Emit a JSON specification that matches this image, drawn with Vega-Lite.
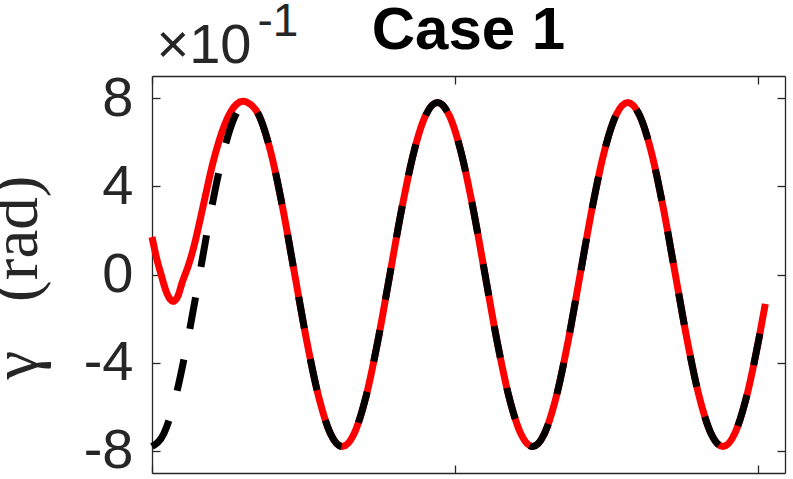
{
  "$schema": "https://vega.github.io/schema/vega-lite/v6.json",
  "width": 633,
  "height": 397,
  "autosize": {"type": "none"},
  "padding": {"left": 152, "top": 76, "right": 8, "bottom": 6},
  "background": "white",
  "title": {"text": "Case 1", "font": "Liberation Sans", "fontSize": 60, "fontWeight": "bold", "color": "black", "anchor": "middle", "frame": "group", "baseline": "alphabetic", "offset": -111},
  "config": {
    "view": {"stroke": null},
    "axis": {"domainColor": "#262626", "domainWidth": 1.3, "tickColor": "#262626", "tickWidth": 1.3, "labelColor": "#262626", "titleColor": "#262626", "grid": false, "labelFont": "Liberation Sans", "titleFont": "Liberation Sans"}
  },
  "datasets": {
    "sim": [
      {"t": 0, "gamma": 0.17}, {"t": 0.15, "gamma": 0.075}, {"t": 0.3, "gamma": 0.0}, {"t": 0.45, "gamma": -0.07},
      {"t": 0.6, "gamma": -0.112}, {"t": 0.7, "gamma": -0.122}, {"t": 0.85, "gamma": -0.1}, {"t": 1.0, "gamma": -0.035},
      {"t": 1.2, "gamma": 0.04}, {"t": 1.4, "gamma": 0.135}, {"t": 1.6, "gamma": 0.255}, {"t": 1.8, "gamma": 0.38},
      {"t": 2.0, "gamma": 0.5}, {"t": 2.2, "gamma": 0.6}, {"t": 2.4, "gamma": 0.68}, {"t": 2.6, "gamma": 0.738},
      {"t": 2.8, "gamma": 0.773}, {"t": 3.0, "gamma": 0.785},
      {"t": 3.142, "gamma": 0.78}, {"t": 3.534, "gamma": 0.7206}, {"t": 3.927, "gamma": 0.5515}, {"t": 4.32, "gamma": 0.2985},
      {"t": 4.712, "gamma": 0}, {"t": 5.105, "gamma": -0.2985}, {"t": 5.498, "gamma": -0.5515}, {"t": 5.89, "gamma": -0.7206},
      {"t": 6.283, "gamma": -0.78}, {"t": 6.676, "gamma": -0.7206}, {"t": 7.069, "gamma": -0.5515}, {"t": 7.461, "gamma": -0.2985},
      {"t": 7.854, "gamma": 0}, {"t": 8.247, "gamma": 0.2985}, {"t": 8.639, "gamma": 0.5515}, {"t": 9.032, "gamma": 0.7206},
      {"t": 9.425, "gamma": 0.78}, {"t": 9.817, "gamma": 0.7206}, {"t": 10.21, "gamma": 0.5515}, {"t": 10.603, "gamma": 0.2985},
      {"t": 10.996, "gamma": 0}, {"t": 11.388, "gamma": -0.2985}, {"t": 11.781, "gamma": -0.5515}, {"t": 12.174, "gamma": -0.7206},
      {"t": 12.566, "gamma": -0.78}, {"t": 12.959, "gamma": -0.7206}, {"t": 13.352, "gamma": -0.5515}, {"t": 13.744, "gamma": -0.2985},
      {"t": 14.137, "gamma": 0}, {"t": 14.53, "gamma": 0.2985}, {"t": 14.923, "gamma": 0.5515}, {"t": 15.315, "gamma": 0.7206},
      {"t": 15.708, "gamma": 0.78}, {"t": 16.101, "gamma": 0.7206}, {"t": 16.493, "gamma": 0.5515}, {"t": 16.886, "gamma": 0.2985},
      {"t": 17.279, "gamma": 0}, {"t": 17.671, "gamma": -0.2985}, {"t": 18.064, "gamma": -0.5515}, {"t": 18.457, "gamma": -0.7206},
      {"t": 18.85, "gamma": -0.78}, {"t": 19.242, "gamma": -0.7206}, {"t": 19.635, "gamma": -0.5515}, {"t": 20.028, "gamma": -0.2985},
      {"t": 20.25, "gamma": -0.133}
    ],
    "ref": [
      {"t": 0, "gamma": -0.78}, {"t": 0.393, "gamma": -0.7206}, {"t": 0.785, "gamma": -0.5515}, {"t": 1.178, "gamma": -0.2985},
      {"t": 1.571, "gamma": 0}, {"t": 1.963, "gamma": 0.2985}, {"t": 2.356, "gamma": 0.5515}, {"t": 2.749, "gamma": 0.7206},
      {"t": 3.142, "gamma": 0.78}, {"t": 3.534, "gamma": 0.7206}, {"t": 3.927, "gamma": 0.5515}, {"t": 4.32, "gamma": 0.2985},
      {"t": 4.712, "gamma": 0}, {"t": 5.105, "gamma": -0.2985}, {"t": 5.498, "gamma": -0.5515}, {"t": 5.89, "gamma": -0.7206},
      {"t": 6.283, "gamma": -0.78}, {"t": 6.676, "gamma": -0.7206}, {"t": 7.069, "gamma": -0.5515}, {"t": 7.461, "gamma": -0.2985},
      {"t": 7.854, "gamma": 0}, {"t": 8.247, "gamma": 0.2985}, {"t": 8.639, "gamma": 0.5515}, {"t": 9.032, "gamma": 0.7206},
      {"t": 9.425, "gamma": 0.78}, {"t": 9.817, "gamma": 0.7206}, {"t": 10.21, "gamma": 0.5515}, {"t": 10.603, "gamma": 0.2985},
      {"t": 10.996, "gamma": 0}, {"t": 11.388, "gamma": -0.2985}, {"t": 11.781, "gamma": -0.5515}, {"t": 12.174, "gamma": -0.7206},
      {"t": 12.566, "gamma": -0.78}, {"t": 12.959, "gamma": -0.7206}, {"t": 13.352, "gamma": -0.5515}, {"t": 13.744, "gamma": -0.2985},
      {"t": 14.137, "gamma": 0}, {"t": 14.53, "gamma": 0.2985}, {"t": 14.923, "gamma": 0.5515}, {"t": 15.315, "gamma": 0.7206},
      {"t": 15.708, "gamma": 0.78}, {"t": 16.101, "gamma": 0.7206}, {"t": 16.493, "gamma": 0.5515}, {"t": 16.886, "gamma": 0.2985},
      {"t": 17.279, "gamma": 0}, {"t": 17.671, "gamma": -0.2985}, {"t": 18.064, "gamma": -0.5515}, {"t": 18.457, "gamma": -0.7206},
      {"t": 18.85, "gamma": -0.78}, {"t": 19.242, "gamma": -0.7206}, {"t": 19.635, "gamma": -0.5515}, {"t": 20.028, "gamma": -0.2985},
      {"t": 20.25, "gamma": -0.133}
    ]
  },
  "layer": [
    {
      "data": {"name": "sim"},
      "mark": {"type": "line", "color": "#ff0000", "strokeWidth": 7, "interpolate": "monotone", "strokeCap": "butt"},
      "encoding": {
        "x": {"field": "t", "type": "quantitative", "scale": {"domain": [0, 20.9], "nice": false, "zero": false},
              "axis": {"orient": "bottom", "title": null, "labels": false, "values": [0, 10, 20], "tickSize": -8}},
        "y": {"field": "gamma", "type": "quantitative", "scale": {"domain": [-0.9, 0.9], "nice": false, "zero": false},
              "axis": {"orient": "left", "values": [-0.8, -0.4, 0, 0.4, 0.8], "labelExpr": "'' + round(datum.value * 10)",
                       "tickSize": -8, "labelPadding": 27, "labelFontSize": 56, "labelOverlap": false, "labelBound": false, "labelFlush": false,
                       "title": "γ\u00a0\u00a0\u00a0(rad)", "titleFont": "Liberation Serif", "titleFontSize": 65, "titleFontWeight": "normal", "titleColor": "#262626",
                       "titleAngle": -90, "titleX": -116, "titleY": 201, "titleAlign": "center", "titleBaseline": "alphabetic"}}
      }
    },
    {
      "data": {"name": "ref"},
      "mark": {"type": "line", "color": "#000000", "strokeWidth": 7, "interpolate": "monotone", "strokeDash": [32, 31], "strokeCap": "butt"},
      "encoding": {
        "x": {"field": "t", "type": "quantitative",
              "axis": {"orient": "top", "labels": false, "values": [0, 10, 20], "tickSize": -8,
                       "title": "×10", "titleFontSize": 56, "titleFontWeight": "normal", "titleAngle": 0,
                       "titleX": 51.5, "titleY": -14, "titleAlign": "center", "titleBaseline": "alphabetic"}},
        "y": {"field": "gamma", "type": "quantitative",
              "axis": {"orient": "right", "labels": false, "values": [-0.8, -0.4, 0, 0.4, 0.8], "tickSize": -8,
                       "title": "-1", "titleFontSize": 46, "titleFontWeight": "normal", "titleAngle": 0,
                       "titleX": -507.5, "titleY": -41, "titleAlign": "center", "titleBaseline": "alphabetic"}}
      }
    }
  ],
  "resolve": {"axis": {"x": "independent", "y": "independent"}}
}
